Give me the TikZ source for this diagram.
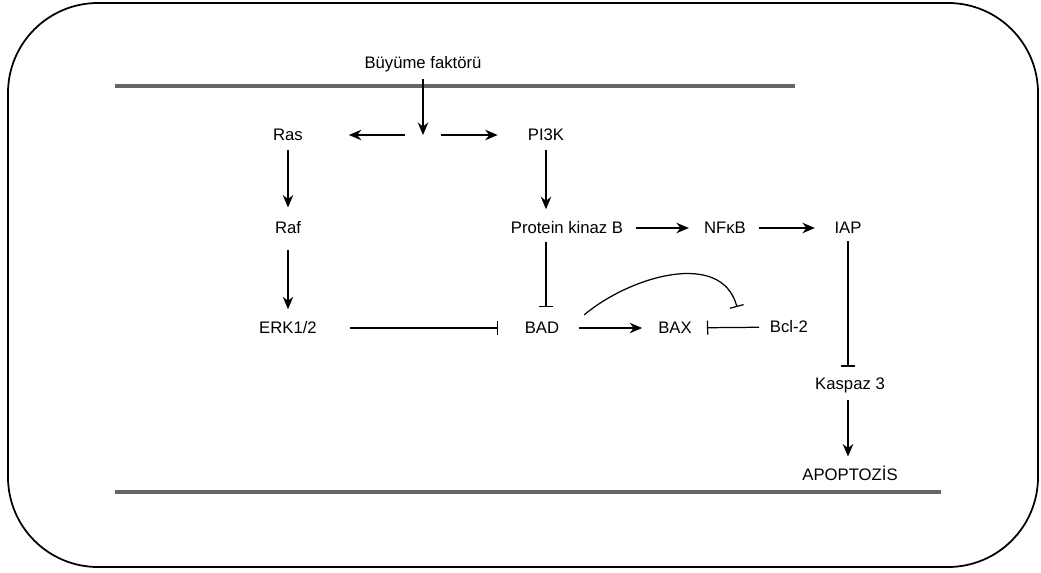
\documentclass[tikz,border=0pt]{standalone}
\usepackage{fontspec}
\setmainfont{Liberation Sans}
\usetikzlibrary{arrows.meta}

\tikzset{
    lbl/.style={inner sep=4pt, font=\fontsize{9.5}{11}\selectfont},
    act/.style={-{Stealth[length=2.5mm, width=2.1mm]}, line width=0.7pt},
    inh/.style={-{Bar[width=2.8mm]}, line width=0.7pt},
    membrane/.style={line width=2pt, black!60}
}

\begin{document}
\begin{tikzpicture}[x=0.02cm, y=-0.02cm]
    \def\mtop{86}       % upper membrane height
    \def\mbot{492}      % lower membrane height
    \def\ml{115}        % membrane left end
    \def\mtr{795}       % upper membrane right end
    \def\mbr{941}       % lower membrane right end
    \useasboundingbox (0,0) rectangle (1041,572);
    % Draw the frame
    \draw[line width=1pt, rounded corners=1.8cm] (8,3) rectangle (1038,567);
    % Draw the membranes
    \draw[membrane] (\ml,\mtop) -- (\mtr,\mtop);
    \draw[membrane] (\ml,\mbot) -- (\mbr,\mbot);
    % Place the labels
    \node[lbl] (growth) at (423,64) {Büyüme faktörü};
    \coordinate (hub) at (423,135);
    \node[lbl] (ras) at (288,135) {Ras};
    \node[lbl] (pik) at (546,135) {PI3K};
    \node[lbl] (raf) at (288,228) {Raf};
    \node[lbl] (erk) at (288,328) {ERK1/2};
    \node[lbl] (pkb) at (567,228) {Protein kinaz B};
    \node[lbl] (nfkb) at (725,228) {NFκB};
    \node[lbl] (iap) at (848,228) {IAP};
    \node[lbl] (bad) at (542,328) {BAD};
    \node[lbl] (bax) at (675,328) {BAX};
    \node[lbl] (bcl) at (789,327) {Bcl-2};
    \node[lbl] (kasp) at (850,385) {Kaspaz 3};
    \node[lbl] (apop) at (850,473) {APOPTOZİS};
    \coordinate (bclhit) at (737,307);
    % Draw the growth factor branch
    \draw[act] (growth.south -| hub) -- (hub);
    \draw[act, shorten <=10pt, shorten >=22pt] (hub) -- (ras);
    \draw[act, shorten <=10.5pt, shorten >=13pt] (hub) -- (pik);
    % Draw the Ras cascade
    \draw[act, shorten <=1pt, shorten >=4pt] (ras) -- (raf);
    \draw[act, shorten <=5pt, shorten >=3pt] (raf) -- (erk);
    \draw[inh, shorten <=15pt, shorten >=11pt] (erk) -- (bad);
    % Draw the PI3K cascade
    \draw[act, shorten <=1pt, shorten >=3pt] (pik) -- (pik |- pkb.north);
    \draw[act, shorten <=3pt, shorten >=4.5pt] (pkb) -- (nfkb);
    \draw[act, shorten <=3pt, shorten >=7pt] (nfkb) -- (iap);
    \draw[inh, shorten >=4.5pt] (pik |- pkb.south) -- (pik |- bad.north);
    \draw[act, shorten <=7pt, shorten >=5pt] (bad) -- (bax);
    \draw[inh, shorten <=2pt, shorten >=4.5pt] (bcl) -- (bax);
    \draw[inh] ([xshift=10pt]bad.north east) to[out=40, in=105] (bclhit);
    % Draw the apoptosis branch
    \draw[inh, shorten >=2pt] (iap) -- (iap |- kasp.north);
    \draw[act, shorten >=1pt] (kasp.south -| iap) -- (apop.north -| iap);
\end{tikzpicture}
\end{document}
